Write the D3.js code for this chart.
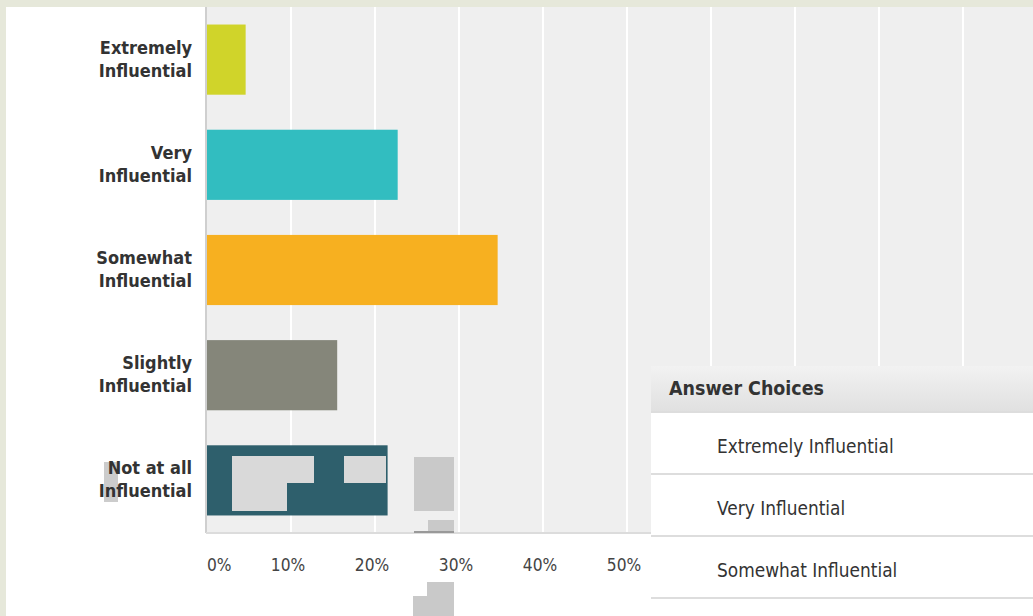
<!DOCTYPE html>
<html>
<head>
<meta charset="utf-8">
<script src="https://cdn.jsdelivr.net/npm/d3@7"></script>
<style>
  body { margin: 0; background: #e6e8da; overflow: hidden; }
  svg { display: block; }
</style>
</head>
<body>
<div id="chart"></div>
<script>
// Datos
const categorias = [
    ["Extremely", "Influential"],
    ["Very", "Influential"],
    ["Somewhat", "Influential"],
    ["Slightly", "Influential"],
    ["Not at all", "Influential"]
];
const porcentajes = [4.6, 22.7, 34.6, 15.5, 21.5];
const colores = ["#d0d42a", "#32bdc0", "#f7b020", "#85867a", "#2e5f6c"];
const ticks = [0, 10, 20, 30, 40, 50, 60, 70, 80, 90, 100];
const tablaFilas = ["Extremely Influential", "Very Influential", "Somewhat Influential"];

const datos = categorias.map((c, i) => ({
    id: c.join(" "),
    lineas: c,
    valor: porcentajes[i],
    color: colores[i]
}));

const svgWidth = 1033, svgHeight = 616;
const plot = { left: 207, top: 7, bottom: 533, right: 1047 };
const tablaX = 651, tablaY = 366;
const fuente = "DejaVu Sans, Verdana, sans-serif";
const estirar = 1.1; // la captura original esta algo estirada en vertical

const svg = d3.select("#chart")
    .append("svg")
    .attr("width", svgWidth)
    .attr("height", svgHeight);

// Panel blanco
svg.append("rect")
    .attr("x", 6).attr("y", 7)
    .attr("width", svgWidth - 6).attr("height", svgHeight - 7)
    .attr("fill", "#ffffff");

const x = d3.scaleLinear()
    .domain([0, 100])
    .range([plot.left, plot.right]);

const y = d3.scaleBand()
    .domain(datos.map(d => d.id))
    .range([plot.top, plot.bottom])
    .paddingInner(0.333)
    .paddingOuter(0.1667);

// Fondo del area de datos
svg.append("rect")
    .attr("x", plot.left).attr("y", plot.top)
    .attr("width", plot.right - plot.left)
    .attr("height", plot.bottom - plot.top)
    .attr("fill", "#efefef");

// Rejilla
svg.append("g")
    .selectAll("line")
    .data(ticks.slice(1))
    .enter().append("line")
    .attr("x1", d => x(d)).attr("x2", d => x(d))
    .attr("y1", plot.top).attr("y2", plot.bottom)
    .attr("stroke", "#ffffff")
    .attr("stroke-width", 2);

// Barras
svg.selectAll(".bar")
    .data(datos)
    .enter().append("rect")
    .attr("class", "bar")
    .attr("x", x(0))
    .attr("y", d => y(d.id))
    .attr("width", d => x(d.valor) - x(0))
    .attr("height", y.bandwidth())
    .attr("fill", d => d.color);

// Ejes
svg.append("line")
    .attr("x1", plot.left - 1).attr("x2", plot.left - 1)
    .attr("y1", plot.top).attr("y2", plot.bottom)
    .attr("stroke", "#cfcfcf").attr("stroke-width", 2);
svg.append("line")
    .attr("x1", plot.left - 1).attr("x2", svgWidth)
    .attr("y1", plot.bottom).attr("y2", plot.bottom)
    .attr("stroke", "#dcdcdc").attr("stroke-width", 2);

// Etiquetas eje X (las que tapa la tabla no se ven)
svg.append("g")
    .selectAll("text")
    .data(ticks.filter(d => x(d) < tablaX))
    .enter().append("text")
    .attr("transform", d => `translate(${d === 0 ? x(d) : x(d) - 3}, 571) scale(1, ${estirar})`)
    .attr("text-anchor", d => d === 0 ? "start" : "middle")
    .attr("font-family", fuente)
    .attr("font-size", 15.5)
    .attr("fill", "#444")
    .text(d => d + "%");

// Manchas grises de la captura
const manchas = [
    [232, 456, 55, 55, "#d9d9d9"], [260, 456, 54, 27, "#d9d9d9"], [344, 456, 42, 27, "#d9d9d9"],
    [414, 457, 40, 54, "#c9c9c9"], [428, 520, 26, 13, "#c9c9c9"], [414, 531, 40, 2, "#999999"],
    [427, 582, 27, 34, "#c9c9c9"], [413, 596, 41, 20, "#c9c9c9"],
    [104, 462, 14, 40, "#cccccc"]
];
svg.append("g")
    .selectAll("rect")
    .data(manchas)
    .enter().append("rect")
    .attr("x", d => d[0]).attr("y", d => d[1])
    .attr("width", d => d[2]).attr("height", d => d[3])
    .attr("fill", d => d[4]);

// Etiquetas eje Y
const etiquetas = svg.append("g")
    .selectAll("text")
    .data(datos)
    .enter().append("text")
    .attr("transform", d => `translate(192, ${y(d.id) + y.bandwidth() / 2 - 6}) scale(1, ${estirar})`)
    .attr("text-anchor", "end")
    .attr("font-family", fuente)
    .attr("font-weight", "bold")
    .attr("font-size", 16.2)
    .attr("fill", "#333");
etiquetas.selectAll("tspan")
    .data(d => d.lineas)
    .enter().append("tspan")
    .attr("x", 0)
    .attr("dy", (d, i) => i === 0 ? 0 : 23 / estirar)
    .text(d => d);

// Tabla "Answer Choices"
const grad = svg.append("defs").append("linearGradient")
    .attr("id", "cabecera").attr("x1", 0).attr("x2", 0).attr("y1", 0).attr("y2", 1);
grad.append("stop").attr("offset", "0%").attr("stop-color", "#f2f2f2");
grad.append("stop").attr("offset", "100%").attr("stop-color", "#e0e0e0");

const tabla = svg.append("g").attr("transform", `translate(${tablaX}, ${tablaY})`);
tabla.append("rect")
    .attr("width", svgWidth - tablaX).attr("height", svgHeight - tablaY)
    .attr("fill", "#ffffff");
tabla.append("rect")
    .attr("width", svgWidth - tablaX).attr("height", 46)
    .attr("fill", "url(#cabecera)");
tabla.append("text")
    .attr("transform", `translate(18, 29) scale(1, ${estirar})`)
    .attr("font-family", fuente)
    .attr("font-weight", "bold")
    .attr("font-size", 17.5)
    .attr("fill", "#333")
    .text("Answer Choices");

const filaAlto = 62;
const filas = tabla.selectAll(".fila")
    .data(tablaFilas)
    .enter().append("g")
    .attr("class", "fila")
    .attr("transform", (d, i) => `translate(0, ${46 + i * filaAlto})`);
filas.append("line")
    .attr("x1", 0).attr("x2", svgWidth - tablaX)
    .attr("y1", 0).attr("y2", 0)
    .attr("stroke", "#dddddd").attr("stroke-width", 2);
filas.append("text")
    .attr("transform", `translate(66, 41) scale(1, ${estirar})`)
    .attr("font-family", fuente)
    .attr("font-size", 17)
    .attr("fill", "#333")
    .text(d => d);
// separador de la cuarta fila (su texto queda fuera de la imagen)
tabla.append("line")
    .attr("x1", 0).attr("x2", svgWidth - tablaX)
    .attr("y1", 46 + tablaFilas.length * filaAlto).attr("y2", 46 + tablaFilas.length * filaAlto)
    .attr("stroke", "#dddddd").attr("stroke-width", 2);
</script>
</body>
</html>
